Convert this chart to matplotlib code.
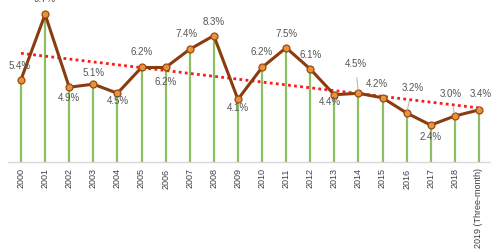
import numpy as np
import matplotlib
matplotlib.use("Agg")
import matplotlib.pyplot as plt

plt.rcParams['font.family'] = ['Liberation Sans', 'DejaVu Sans']

# Data

years = ['2000', '2001', '2002', '2003', '2004', '2005', '2006', '2007', '2008', '2009',
         '2010', '2011', '2012', '2013', '2014', '2015', '2016', '2017', '2018',
         '2019 (Three-month)']
growth = [5.4, 9.7, 4.9, 5.1, 4.5, 6.2, 6.2, 7.4, 8.3, 4.1,
          6.2, 7.5, 6.1, 4.4, 4.5, 4.2, 3.2, 2.4, 3.0, 3.4]

# label offsets in pixels (dx, dy) and which labels get a leader line
label_offsets = [(-1, 14), (0, 15), (0, -11), (0, 11), (0, -8), (0, 15), (0, -15), (-3, 15),
                 (0, 14), (0, -9), (0, 15), (0, 14), (0, 14), (-4, -7), (-3, 29), (-6, 14),
                 (6, 25), (0, -12), (-4, 22), (2, 16)]
leaders = [7, 14, 15, 16, 18, 19]

x = np.arange(len(years))
y = np.array(growth)

fig = plt.figure(figsize=(4.96, 2.52), dpi=100)
ax = fig.add_axes([8 / 496, (252 - 161.5) / 252, 482 / 496, 161.5 / 252])

# green drop lines
ax.vlines(x, 0, y, colors='#8cc063', linewidth=1.6, zorder=1)

# linear trend
k, b = np.polyfit(x, y, 1)
ax.plot(x, k * x + b, color='#ff1a1a', linestyle=(0, (1, 1.2)), linewidth=2.0, zorder=2)

# main line
ax.plot(x, y, color='#8a3c10', linewidth=2.2, marker='o', markersize=5,
        markerfacecolor='#e8923c', markeredgecolor='#9a4a14', markeredgewidth=0.9, zorder=3)

for i, v in enumerate(growth):
    dx, dy = label_offsets[i]
    if i in leaders:
        ax.annotate('%.1f%%' % v, (x[i], v), xytext=(dx, dy), textcoords='offset pixels',
                    ha='center', va='center', fontsize=7, color='#555555',
                    arrowprops=dict(arrowstyle='-', color='#b0b0b0', lw=0.7,
                                    shrinkA=4, shrinkB=2))
    else:
        ax.annotate('%.1f%%' % v, (x[i], v), xytext=(dx, dy), textcoords='offset pixels',
                    ha='center', va='center', fontsize=7, color='#555555')

ax.set_xlim(-0.54, 19.46)
ax.set_ylim(0, 10.65)
ax.set_xticks(x)
ax.set_xticklabels(years, rotation=90, fontsize=6.5, color='#404040')
ax.tick_params(axis='x', length=0, pad=5)
ax.set_yticks([])
for s in ['top', 'left', 'right']:
    ax.spines[s].set_visible(False)
ax.spines['bottom'].set_color('#d9d9d9')
ax.spines['bottom'].set_linewidth(1.0)
ax.spines['bottom'].set_zorder(0)

fig.savefig('out.png', dpi=100)
